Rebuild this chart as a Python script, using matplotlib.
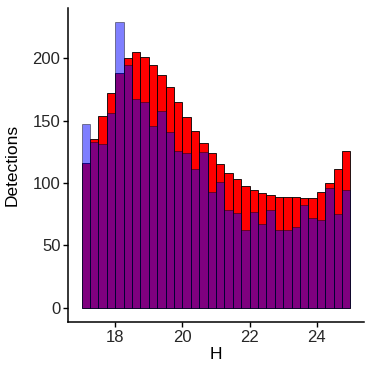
import numpy as np
import matplotlib
matplotlib.use('Agg')
import matplotlib.pyplot as plt

plt.rcParams['font.family'] = ['Liberation Sans', 'DejaVu Sans']

# bin edges of H (width 0.25 from 17 to 25)
bin_start = [17.0, 17.25, 17.5, 17.75, 18.0, 18.25, 18.5, 18.75,
             19.0, 19.25, 19.5, 19.75, 20.0, 20.25, 20.5, 20.75,
             21.0, 21.25, 21.5, 21.75, 22.0, 22.25, 22.5, 22.75,
             23.0, 23.25, 23.5, 23.75, 24.0, 24.25, 24.5, 24.75]
bin_width = 0.25

# red histogram (drawn first, opaque)
red_counts = [116, 135, 154, 172, 188, 200, 205, 201,
              195, 187, 177, 165, 153, 142, 132, 124,
              115, 108, 103, 98, 94, 92, 90, 89,
              89, 89, 88, 88, 93, 100, 111, 126]
# blue histogram (drawn on top, half transparent)
blue_counts = [147, 133, 131, 156, 229, 195, 167, 165,
               146, 158, 141, 126, 124, 111, 125, 93,
               101, 78, 76, 62, 77, 67, 78, 62,
               62, 65, 82, 72, 70, 96, 75, 94]

fig, ax = plt.subplots(figsize=(3.74, 3.74), dpi=100)
fig.subplots_adjust(left=0.182, right=0.973, top=0.979, bottom=0.139)

ax.bar(bin_start, red_counts, width=bin_width, align='edge',
       color='red', edgecolor='black', linewidth=0.6)
ax.bar(bin_start, blue_counts, width=bin_width, align='edge',
       color='blue', alpha=0.5, edgecolor='black', linewidth=0.6)

ax.set_xlim(16.6, 25.4)
ax.set_ylim(-11.5, 240.5)
ax.set_xticks([18, 20, 22, 24])
ax.set_yticks([0, 50, 100, 150, 200])

for s in ['top', 'right']:
    ax.spines[s].set_visible(False)
for s in ['left', 'bottom']:
    ax.spines[s].set_linewidth(1.1)
ax.tick_params(axis='both', length=3.5, width=1.0, labelsize=12,
               labelcolor='#262626', pad=2)

ax.set_xlabel('H', fontsize=12.5, labelpad=2)
ax.set_ylabel('Detections', fontsize=12.5, labelpad=9)

plt.savefig('out.png', dpi=100)
